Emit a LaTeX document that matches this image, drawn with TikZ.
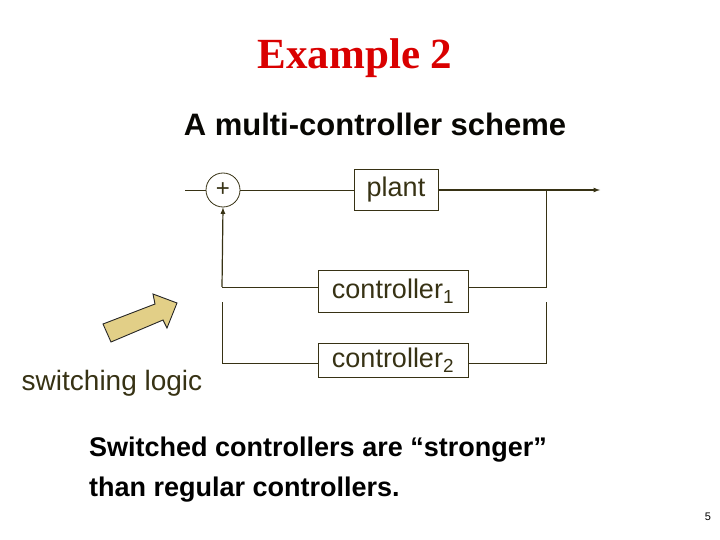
\documentclass[tikz,border=0pt]{standalone}
\usepackage{fontspec}
\setmainfont{Liberation Sans}
\newfontfamily\serifb{Liberation Serif}
\definecolor{ink}{RGB}{55,50,20}
\definecolor{arrowfill}{RGB}{226,207,135}
\begin{document}
\begin{tikzpicture}[x=1pt,y=-1pt,
  blk/.style={draw=ink,line width=0.8pt,inner sep=0pt,text=ink,font=\fontsize{27}{30}\selectfont},
  wire/.style={draw=ink,line width=0.8pt},
  lbl/.style={text=ink,inner sep=0pt}]
\useasboundingbox (0,0) rectangle (720,540);
\node[lbl,text=red!85!black,font=\serifb\bfseries\fontsize{43}{46}\selectfont] (title) at (355,58) {Example 2};
\node[lbl,font=\bfseries\fontsize{31}{34}\selectfont,text=black!85!ink] (sub) at (375,124) {A multi-controller scheme};
\node[circle,draw=ink,line width=0.8pt,minimum size=34pt,inner sep=0pt,text=ink,font=\fontsize{24}{26}\selectfont] (sum) at (223,190) {+};
\node[blk,minimum width=84pt,minimum height=41pt] (plant) at (396,190) {plant};
\node[blk,minimum width=150pt,minimum height=42pt] (c1) at (393,291) {controller\textsubscript{1}};
\node[blk,minimum width=150pt,minimum height=34pt] (c2) at (393,360) {controller\textsubscript{2}};
\coordinate (in) at (185,190);
\coordinate (out) at (600,190);
\coordinate (br) at (546,190);
\coordinate (r1) at (546,287);
\coordinate (r2t) at (546,302);
\coordinate (r2) at (546,363);
\coordinate (l1) at (222,287);
\coordinate (l2t) at (222,302);
\coordinate (l2) at (222,363);
\draw[wire] (in) -- (sum.west);
\draw[wire] (sum.east) -- (plant.west);
\draw[wire,line width=1.2pt,-latex] (plant.east) -- (out);
\draw[wire] (br) -- (r1) -- (c1.east |- r1);
\draw[wire] (r2t) -- (r2) -- (c2.east |- r2);
\draw[wire] (c1.west |- l1) -- (l1);
\draw[wire,line width=1.2pt,-latex] (l1) -- (sum.south);
\draw[wire] (c2.west |- l2) -- (l2) -- (l2t);
\draw[draw=black!85,fill=arrowfill,line width=0.9pt] (103,324) -- (155,304) -- (153,294) -- (177,303) -- (167,328) -- (163,320) -- (111,342) -- cycle;
\node[lbl,font=\fontsize{28}{30}\selectfont] (sw) at (112,383) {switching logic};
\node[lbl,anchor=west,align=left,font=\bfseries\fontsize{27}{40}\selectfont,text=black] (note) at (89,470) {Switched controllers are ``stronger''\\than regular controllers.};
\node[lbl,font=\fontsize{11}{12}\selectfont,text=black] (pg) at (708,517) {5};
\end{tikzpicture}
\end{document}
